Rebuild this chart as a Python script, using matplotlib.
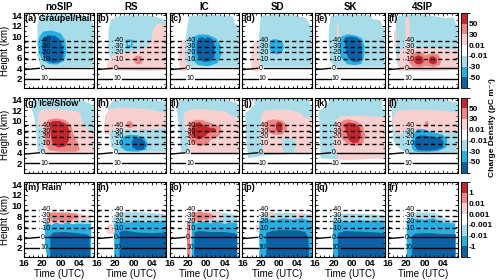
import matplotlib
matplotlib.use('Agg')
import matplotlib.pyplot as plt
from matplotlib.colors import ListedColormap, BoundaryNorm
from matplotlib.cm import ScalarMappable
from matplotlib.patches import Polygon
from matplotlib.ticker import MultipleLocator

plt.rcParams['font.family'] = ['Liberation Sans', 'DejaVu Sans']
plt.rcParams['font.weight'] = 'bold'

# ---------------- data ----------------
schemes = ['noSIP', 'RS', 'IC', 'SD', 'SK', '4SIP']
species = ['Graupel/Hail', 'Ice/Snow', 'Rain']
letters = 'abcdefghijklmnopqr'
level_colors = ['#0b60a6', '#27aee3', '#a8dce8', '#ffffff', '#f9d0d0', '#ee8585', '#c1272d']
DB, CY, LB, WH, PK, RD, DR = range(7)
cbar_labels_ice = ['-50', '-30', '-0.01', '0.01', '30', '50']
cbar_labels_rain = ['-1', '-0.01', '-0.001', '0.001', '0.01', '1']
iso_labels = ['-40', '-30', '-20', '-10', '0', '10']
iso_heights = [9.2, 8.1, 7.0, 5.7, 4.0, 2.0]
time_ticks = [16, 20, 24, 28]
time_labels = ['16', '20', '00', '04']
height_ticks = [2, 4, 6, 8, 10, 12, 14]

# charge-density regions (time in hours since 00 UTC of day 1, height km)
panel_a = [
    (LB, [(18.9,12.2),(19.6,13.9),(22,14.2),(26,14.1),(29.5,13.8),(30.8,13.0),(31.2,12.0),(31.2,4.3),(25,4.2),(19.6,4.2),(19.3,5.5),(18.8,6.5),(19.2,7.5),(18.7,9.0),(19.0,10.5)]),
    (CY, [(19.3,9.8),(20.2,10.9),(22,11.1),(24,10.6),(25.0,9.3),(25.3,7.0),(24.8,5.4),(23.3,4.7),(21.5,4.8),(20.0,5.6),(19.2,7.0),(19.1,8.5)]),
    (DB, [(20.1,9.6),(21.2,10.2),(22.8,10.1),(24.0,9.3),(24.6,7.8),(24.6,6.2),(23.8,5.2),(22.4,5.0),(21.0,5.4),(20.2,6.5),(19.9,8.0)]),
]
panel_b = [
    (LB, [(18.6,11.5),(19.2,13.2),(21,13.9),(25,14.0),(28.5,13.8),(30.5,13.2),(31.2,12.5),(31.2,4.3),(19.8,4.3),(19.0,5.5),(18.5,8.0)]),
    (PK, [(18.2,3.8),(18.3,5.0),(19.5,6.4),(21.5,6.9),(24,7.3),(26.5,7.8),(27.8,9.0),(28.3,11.2),(29.2,12.4),(30.5,12.3),(31.2,11.8),(31.2,3.6),(26,3.5),(21,3.6)]),
    (CY, [(22.5,7.9),(22.4,9.4),(23.9,9.4),(23.8,7.9)]),
    (LB, [(22.9,8.3),(22.9,9.0),(23.4,9.0),(23.4,8.3)]),
    (RD, [(24.3,5.0),(24.2,6.0),(24.8,6.4),(25.7,6.3),(26.1,5.6),(25.8,4.9),(25,4.7)]),
]
panel_c = [
    (PK, [(18.2,3.6),(18.0,6),(18.4,8.5),(19.0,9.5),(19.8,9.0),(19.6,6),(19.9,4.2),(19.5,3.5)]),
    (LB, [(19.9,12.0),(20.3,13.8),(23,14.1),(27,14.0),(29.8,13.8),(30.2,12.5),(31.2,12.0),(31.2,4.3),(20.2,4.3),(19.5,5.5),(19.4,8),(19.6,10)]),
    (CY, [(20.8,8.5),(21.2,9.9),(22.5,10.4),(24.5,10.3),(26.2,9.6),(27.2,8.3),(27.3,6.5),(26.5,5.0),(24.5,4.4),(22.3,4.6),(21.0,5.6)]),
    (DB, [(21.9,8.5),(22.3,9.7),(23.3,9.9),(23.8,9.5),(24.3,9.9),(25.3,9.5),(25.9,8.0),(25.8,6.2),(25.0,5.3),(23.5,5.2),(22.3,5.8),(21.9,7.0)]),
]
panel_d = [
    (PK, [(18.0,3.6),(17.9,6),(18.3,8.5),(19.0,9.3),(19.8,8.5),(19.7,6),(20.0,4.2),(19.4,3.5)]),
    (LB, [(19.8,11.5),(20.0,13.8),(23,14.1),(27,14.0),(29.8,13.5),(30.6,12.5),(31.2,11.5),(31.2,4.3),(20.1,4.3),(19.6,6),(19.5,9)]),
    (CY, [(21.9,8.3),(22.1,9.2),(22.8,9.5),(23.8,9.4),(24.8,8.9),(25.1,8.0),(24.7,7.1),(23.7,6.6),(22.6,6.9),(22.0,7.5)]),
]
panel_e = [
    (LB, [(19.0,11.5),(19.4,13.8),(22,14.1),(28,14.0),(28.5,13.3),(30.3,13.0),(30.6,12.0),(31.2,11.5),(31.2,4.3),(20,4.3),(19.3,5.5),(18.9,8.5)]),
    (PK, [(20.8,9.8),(20.7,12.2),(21.1,12.3),(21.2,9.8)]),
    (CY, [(21.3,8.8),(21.8,10.0),(23,10.4),(24.8,10.2),(26.3,9.6),(26.8,8.0),(26.7,6.0),(26.0,4.8),(24.5,4.6),(23.0,4.8),(21.7,6.0),(21.2,7.5)]),
    (DB, [(22.4,9.7),(23.5,10.0),(25.0,9.8),(26.0,9.2),(26.3,7.5),(26.2,5.8),(25.5,5.2),(24.3,5.2),(23.3,5.8),(22.8,7.0),(22.5,8.5)]),
]
panel_f = [
    (LB, [(17.7,12),(18.2,13.8),(21,14.1),(24,14.0),(27,13.7),(28.5,13.4),(30.3,13.6),(30.8,12.5),(31.2,12.0),(31.2,4.0),(18.2,4.0),(17.6,8)]),
    (PK, [(17.4,8),(17.3,11),(17.8,11.2),(17.9,8)]),
    (PK, [(19.9,8),(19.8,13.5),(20.6,13.6),(20.9,8)]),
    (PK, [(18.2,3.6),(18.3,6.5),(18.8,7.6),(21,7.9),(25,7.8),(28,7.7),(30.8,7.6),(31.2,7.5),(31.2,3.8),(29,3.6),(24,3.5),(20,3.5)]),
    (RD, [(20.6,5.0),(20.7,6.3),(21.7,7.0),(23.5,6.9),(24.3,6.4),(25.3,6.8),(26.8,6.7),(27.7,5.8),(27.4,4.6),(26,4.2),(24.3,4.5),(23.2,4.2),(21.5,4.3)]),
    (DR, [(21.7,5.3),(21.9,6.2),(22.7,6.5),(23.6,6.1),(23.8,5.2),(23.1,4.7),(22.2,4.8)]),
    (DR, [(24.9,5.3),(25.1,6.1),(25.8,6.3),(26.6,5.9),(26.7,5.1),(26.0,4.7),(25.3,4.9)]),
]
panel_g = [
    (LB, [(17.6,12.5),(18.2,13.9),(21,14.2),(25,14.1),(28.5,14.0),(30.5,13.2),(31.2,12.5),(31.2,4.2),(19.0,4.2),(18.8,7),(18.4,10)]),
    (PK, [(19.0,9.5),(19.0,11.0),(19.6,12.0),(22,12.3),(25,12.1),(27.5,11.8),(28.4,11.3),(28.8,9.5),(30.0,8.4),(31.2,8.0),(31.2,4.0),(25,3.9),(20.5,4.0),(20.4,6.0),(20.0,8.5),(19.3,8.7)]),
    (RD, [(20.6,9.0),(21.2,10.2),(23,10.5),(25,10.2),(26.3,9.2),(26.8,7.5),(27.8,5.8),(28.2,4.6),(27.5,4.2),(24,4.2),(21.5,4.5),(20.7,5.5),(20.4,7.5)]),
    (DR, [(21.6,9.6),(22.3,10.0),(23.8,10.0),(25.3,9.4),(26.0,8.0),(25.8,6.3),(25.0,5.2),(23.5,5.0),(22.3,5.6),(21.9,7.0)]),
]
panel_h = [
    (LB, [(18.5,12.5),(19.5,13.8),(22,14.2),(26,14.1),(29,13.9),(31.2,13.5),(31.2,4.2),(20.5,4.2),(19.2,5),(18.6,8.5)]),
    (PK, [(17.5,8.5),(17.8,11),(18.8,12.2),(21,12.5),(24,12.4),(27,12.2),(29.5,11.8),(31.2,11.5),(31.2,8.6),(28,8.4),(25,8.3),(22,8.4),(19.5,8.3),(18.8,7.5),(18.0,7.3)]),
    (RD, [(22.5,9.0),(22.6,9.8),(23.3,10.0),(23.9,9.6),(23.8,8.8),(23.1,8.6)]),
    (CY, [(21.0,6.0),(21.5,7.0),(23,7.4),(25,7.3),(26.5,6.8),(27.1,5.8),(26.8,4.6),(25,4.2),(22.5,4.3),(21.3,5.0)]),
    (DB, [(23.6,6.0),(24.2,6.8),(25.3,6.9),(26.4,6.3),(26.8,5.4),(26.2,4.6),(24.8,4.5),(23.8,5.0)]),
]
panel_i = [
    (LB, [(17.5,12.5),(18.2,13.9),(21,14.2),(25,14.1),(28.5,14.0),(30.5,13.5),(31.2,13.0),(31.2,4.2),(18.5,4.2),(18.2,8)]),
    (PK, [(19.0,9.0),(19.0,11.2),(19.8,12.0),(22,12.3),(25,12.1),(28,11.8),(29.5,11.0),(31.2,10.5),(31.2,4.0),(24,3.9),(20.3,4.0),(20.0,6.5),(19.5,8.5)]),
    (RD, [(20.0,8.0),(20.4,9.5),(21.5,10.2),(23,10.2),(25,9.6),(27.0,9.0),(27.5,8.0),(26.5,7.0),(25,6.5),(24.2,5.5),(22.5,5.2),(21.0,5.8),(20.2,6.8)]),
    (DR, [(20.8,8.3),(21.3,9.5),(22.5,9.8),(23.5,9.2),(24.5,8.8),(26.0,8.6),(26.2,8.1),(24.5,7.7),(23.6,7.0),(22.5,6.5),(21.3,6.9)]),
]
panel_j = [
    (LB, [(16.6,11.5),(17.5,12.0),(18.6,13.0),(18.6,14.4),(30.5,14.4),(30.8,13.0),(31.2,12.5),(31.2,4.0),(20.4,3.5),(19.0,3.2),(17.2,3.0),(16.9,6),(16.7,9)]),
    (PK, [(19.8,8.5),(20.2,11.2),(21,12.0),(24,12.2),(27,12.0),(28.4,11.6),(29.5,10.8),(31.2,10.6),(31.2,4.0),(27.5,3.8),(24,3.7),(20.6,3.8),(20.2,5.5)]),
    (LB, [(24.6,6.2),(25.2,6.8),(26.5,6.9),(27.6,6.2),(27.7,5.0),(27.2,4.0),(25.5,3.8),(24.8,4.5)]),
    (RD, [(20.9,9.2),(21.5,10.1),(23,10.3),(24.8,10.0),(25.8,9.2),(25.7,8.1),(24.5,7.4),(22.8,7.4),(21.4,8.0)]),
    (DR, [(23.3,8.3),(23.4,9.6),(24.0,9.9),(24.7,9.5),(24.8,8.4),(24.1,8.0)]),
]
panel_k = [
    (LB, [(16.8,11.8),(18,12.5),(19,13.5),(19.2,14.4),(30.5,14.4),(30.7,12.5),(31.2,12.0),(31.2,3.0),(20.5,2.8),(18.5,2.9),(17.2,3.0),(17.0,7)]),
    (PK, [(20.0,7.0),(20.5,10.2),(21.5,10.9),(24,11.0),(27,10.9),(29.5,10.8),(31.2,10.6),(31.2,3.0),(27,2.8),(23,2.6),(21,2.8),(20.3,4.5)]),
    (RD, [(21.2,8.8),(21.8,10.0),(23.2,10.3),(25,10.0),(26.5,9.0),(27.0,7.3),(26.5,5.8),(25.0,5.3),(23.2,5.5),(22.0,6.5),(21.3,7.5)]),
    (DR, [(22.3,9.3),(23.3,9.7),(24.8,9.5),(25.8,8.7),(26.0,7.3),(25.5,6.0),(24.3,5.8),(23.3,6.4),(22.8,7.8)]),
]
panel_l = [
    (LB, [(16.8,13.0),(17.5,13.8),(18.5,14.1),(25,14.2),(28.5,14.0),(29.5,13.7),(31.2,13.5),(31.2,4.0),(20.2,4.0),(18.5,4.8),(17.2,6),(16.9,9)]),
    (PK, [(17.2,8.5),(17.0,10.5),(17.8,11.8),(20,12.1),(24,12.1),(27,12.0),(29.5,11.8),(31.2,11.5),(31.2,8.0),(28.5,7.9),(26,8.0),(23.5,8.3),(21.5,8.4),(20,8.5),(19,7.5),(18,7.3)]),
    (RD, [(24.1,8.9),(24.1,9.8),(24.6,10.0),(24.9,9.6),(24.8,8.9)]),
    (CY, [(21.2,5.5),(21.5,7.5),(22.5,8.5),(24,8.4),(26,7.8),(28.0,7.4),(29.0,6.5),(28.7,5.0),(27,4.3),(24,4.1),(22,4.2),(21.3,4.7)]),
    (DB, [(21.7,5.5),(22.0,6.8),(23,7.3),(24.5,7.2),(26,7.0),(27.5,6.8),(28.2,6.0),(28.0,5.0),(26.5,4.5),(24.5,4.4),(22.5,4.5)]),
]
panel_m = [
    (CY, [(20.6,7.0),(21.5,6.6),(22.5,7.0),(24,6.6),(25.5,7.2),(27,6.5),(28.2,7.0),(29.5,6.6),(30.7,6.8),(30.7,0.3),(21.0,0.3),(20.6,3)]),
    (LB, [(27,6.6),(27.5,7.5),(29.5,7.9),(30.7,7.6),(30.7,6.5)]),
    (PK, [(21.0,6.8),(21.2,8.6),(22,8.8),(27,8.7),(28,8.5),(30.3,8.0),(30.5,7.3),(29,7.0),(27.5,7.2),(26.5,6.4),(25.5,7.0),(24.5,6.4),(23,6.8),(22,6.3)]),
    (RD, [(21.3,7.0),(21.4,8.5),(22.5,8.7),(25.5,8.6),(27.7,8.4),(27.8,7.3),(26.8,7.5),(26.3,6.8),(25.5,7.2),(24.6,6.6),(23.7,7.3),(22.8,6.9),(22,7.2)]),
    (DB, [(21.7,0.3),(21.8,4.4),(22.5,4.9),(25,5.0),(27.5,4.8),(29.5,4.6),(30.3,4.3),(30.5,0.3)]),
]
panel_n = [
    (LB, [(19.5,7.5),(20.5,8.5),(23,8.8),(26,8.7),(29,8.5),(31.2,8.3),(31.2,6.0),(19.6,6.0)]),
    (CY, [(19.8,0.3),(19.8,6.5),(21,7.0),(23,6.7),(25,7.2),(27,6.8),(29,7.1),(31.2,6.9),(31.2,0.3)]),
    (DB, [(21.0,0.3),(21.0,5.0),(22,5.3),(25,4.9),(28,4.8),(31.2,4.9),(31.2,0.3)]),
    (PK, [(18.1,4.8),(18.2,6.0),(18.8,6.6),(19.7,6.3),(19.9,5.0),(19.5,4.5)]),
]
panel_o = [
    (LB, [(20.3,7.5),(21,8.6),(24,8.8),(27,8.7),(29.5,8.4),(30.8,8.0),(30.8,6.0),(20.4,6.0)]),
    (CY, [(20.8,0.3),(20.8,6.9),(22,6.6),(23.5,7.0),(25,6.6),(26.5,7.0),(28,6.5),(29.5,6.8),(30.8,6.6),(30.8,0.3)]),
    (PK, [(21,7.0),(21,8.7),(23,8.9),(26,8.7),(27.5,8.5),(27.5,7.5),(26,7.2),(25,7.6),(24,7.0),(22.5,7.3)]),
    (RD, [(21.1,6.8),(21.1,8.6),(22.5,8.8),(24,8.6),(25.3,8.4),(25.4,7.5),(24.6,7.6),(24.2,6.8),(23.5,7.4),(22.7,6.8),(22,7.3)]),
    (RD, [(19.8,0.3),(19.8,6.9),(20.5,7.0),(20.6,0.3)]),
    (DB, [(21.4,0.3),(21.4,4.9),(22.5,5.2),(25,5.0),(28,5.0),(30,4.8),(30.8,4.5),(30.8,0.3)]),
]
panel_p = [
    (LB, [(19.7,7.5),(20.5,8.4),(23,8.6),(26,8.6),(29,8.5),(31.2,8.3),(31.2,6.0),(19.8,6.0)]),
    (CY, [(19.7,0.3),(19.7,7.0),(21,7.5),(23,7.2),(25,7.6),(27,7.3),(29,7.6),(30.5,7.2),(31.2,7.0),(31.2,0.3)]),
    (PK, [(21.6,7.9),(21.6,8.8),(23.0,8.8),(23.0,7.9)]),
    (PK, [(27.8,7.8),(27.8,8.6),(29.2,8.6),(29.2,7.8)]),
    (PK, [(19.0,5.0),(19.0,6.4),(19.7,6.4),(19.7,5.0)]),
    (DB, [(21.2,0.3),(21.2,4.8),(22.5,5.2),(25,5.4),(28,5.3),(29.8,5.0),(30.4,4.0),(30.6,0.3)]),
]
panel_q = [
    (LB, [(19.8,7.3),(20.5,8.3),(23,8.5),(26,8.4),(29,8.3),(31.2,8.0),(31.2,6.0),(19.9,6.0)]),
    (CY, [(19.9,0.3),(19.9,6.8),(21.5,7.2),(23.5,6.9),(25.5,7.3),(27.5,7.0),(29.5,7.2),(31.2,6.9),(31.2,0.3)]),
    (DB, [(21.0,0.3),(21.0,4.8),(22.5,5.2),(25,5.1),(28,5.0),(31.2,4.8),(31.2,0.3)]),
]
panel_r = [
    (LB, [(20.1,7.5),(20.8,8.5),(23,8.7),(26,8.6),(27.7,8.0),(29,7.3),(30.7,7.0),(30.7,6.0),(20.2,6.0)]),
    (CY, [(20.1,0.3),(20.1,7.0),(22,7.5),(24,7.3),(26,7.6),(28,6.8),(30.7,6.6),(30.7,0.3)]),
    (DB, [(21.2,0.3),(21.2,4.2),(22.0,4.7),(25,4.8),(28,4.6),(30.8,4.6),(30.8,0.3)]),
]
panels = [panel_a, panel_b, panel_c, panel_d, panel_e, panel_f,
          panel_g, panel_h, panel_i, panel_j, panel_k, panel_l,
          panel_m, panel_n, panel_o, panel_p, panel_q, panel_r]

# ---------------- layout ----------------
FW, FH = 500, 280
fig = plt.figure(figsize=(FW / 100, FH / 100), dpi=100)
row_tops = [13, 97.5, 182]
PH = 75
col_lefts = [24 + 72.8 * c for c in range(6)]
PW = 69.5
XLIM = (16, 31.2)
YLIM = (0.3, 14.4)

axes = []
for r in range(3):
    for c in range(6):
        ax = fig.add_axes([col_lefts[c] / FW, 1 - (row_tops[r] + PH) / FH, PW / FW, PH / FH])
        axes.append((r, c, ax))

cmap = ListedColormap(level_colors)
norm = BoundaryNorm(list(range(8)), 7)

iso_texts = []
for idx, (r, c, ax) in enumerate(axes):
    for lev, pts in panels[idx]:
        ax.add_patch(Polygon(pts, closed=True, fc=level_colors[lev], ec='none', zorder=1))
    ax.set_xlim(*XLIM)
    ax.set_ylim(*YLIM)
    ax.set_xticks(time_ticks)
    ax.set_yticks(height_ticks)
    ax.xaxis.set_minor_locator(MultipleLocator(1))
    ax.yaxis.set_minor_locator(MultipleLocator(1))
    ax.tick_params(which='both', direction='in', top=True, right=True, width=0.6, labelsize=6.8, pad=1.5)
    ax.tick_params(which='major', length=2.5)
    ax.tick_params(which='minor', length=1.3)
    for s in ax.spines.values():
        s.set_linewidth(0.8)
    if r == 2:
        ax.set_xticklabels(time_labels)
        ax.set_xlabel('Time (UTC)', fontsize=7, labelpad=0.5)
    else:
        ax.set_xticklabels([])
    if c == 0:
        ax.set_ylabel('Height (km)', fontsize=7, labelpad=1)
    else:
        ax.set_yticklabels([])
    if r == 0:
        ax.set_title(schemes[c], fontsize=7, pad=2.5, fontweight='bold')
    lab = '(%s)' % letters[idx] + (' ' + species[r] if c == 0 else '')
    ax.text(0.012, 0.985, lab, transform=ax.transAxes, ha='left', va='top', fontsize=6.5, zorder=5)
    for tl, hh in zip(iso_labels, iso_heights):
        t = ax.text(19.6, hh, tl, ha='left', va='center', fontsize=5, fontweight='normal', zorder=5)
        iso_texts.append((ax, t, tl, hh))

fig.canvas.draw()
rend = fig.canvas.get_renderer()
for ax, t, tl, hh in iso_texts:
    bb = t.get_window_extent(rend)
    x1 = ax.transData.inverted().transform((bb.x1, bb.y0))[0]
    dashed = tl.startswith('-')
    ls = (0, (3.0, 2.2)) if dashed else '-'
    left_y0 = hh - 0.25 if tl == '0' else hh
    ax.plot([XLIM[0], 19.35], [left_y0, hh], color='black', lw=1.0, ls=ls, zorder=4)
    ax.plot([x1 + 0.25, XLIM[1]], [hh, hh], color='black', lw=1.0, ls=ls, zorder=4)

# colorbars
for r in range(3):
    cax = fig.add_axes([461 / FW, 1 - (row_tops[r] + PH) / FH, 5.5 / FW, PH / FH])
    sm = ScalarMappable(norm=norm, cmap=cmap)
    cb = fig.colorbar(sm, cax=cax, ticks=[1, 2, 3, 4, 5, 6])
    cb.set_ticklabels(cbar_labels_rain if r == 2 else cbar_labels_ice)
    cb.ax.tick_params(labelsize=6, length=0, pad=1.5)
    cb.outline.set_linewidth(0.6)

fig.text(0.984, 1 - 128 / FH, 'Charge Density (pC m⁻³)', rotation=90, ha='center', va='center', fontsize=6)

fig.savefig('out.png', dpi=100)
